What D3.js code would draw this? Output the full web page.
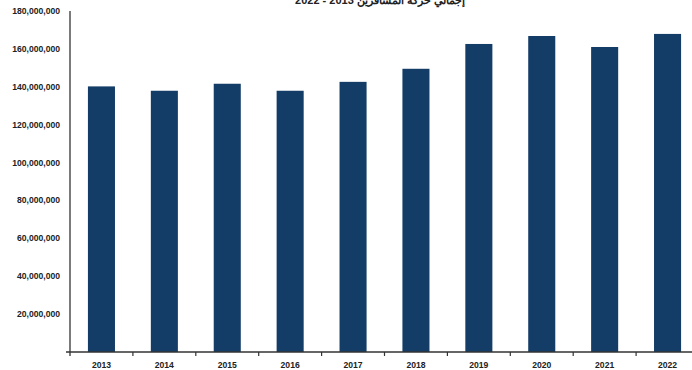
<!DOCTYPE html>
<html><head><meta charset="utf-8">
<script src="https://cdn.jsdelivr.net/npm/d3@7"></script>
<style>body{margin:0;background:#fff}svg{display:block}</style>
</head><body>
<script>
const title = "إجمالي حركة المسافرين 2013 - 2022";
const years = ["2013","2014","2015","2016","2017","2018","2019","2020","2021","2022"];
const values = [140200000,137900000,141600000,137900000,142600000,149500000,162600000,166800000,161000000,167900000];
const yTicks = [20000000,40000000,60000000,80000000,100000000,120000000,140000000,160000000,180000000];

const W = 692, H = 370;
const svg = d3.select("body").append("svg").attr("width", W).attr("height", H);
const x0 = 70, x1 = 699, yTop = 11, yBot = 352;
const x = d3.scaleBand().domain(years).range([x0, x1]).paddingInner(0.57).paddingOuter(0.285);
const y = d3.scaleLinear().domain([0, 180000000]).range([yBot, yTop]);
const font = "'Liberation Sans', Arial, sans-serif";

svg.append("text").attr("x", 380).attr("y", 4).attr("text-anchor", "middle")
  .attr("direction", "rtl").attr("font-family", font).attr("font-weight", "bold")
  .attr("font-size", 11).attr("fill", "#222").text(title);

svg.selectAll("rect.bar").data(years).join("rect").attr("class","bar")
  .attr("x", d => x(d)).attr("width", x.bandwidth())
  .attr("y", (d,i) => y(values[i])).attr("height", (d,i) => yBot - y(values[i]))
  .attr("fill", "#133c66");

svg.selectAll("text.yl").data(yTicks).join("text").attr("class","yl")
  .attr("x", 60).attr("y", d => y(d)).attr("dy", "0.35em").attr("text-anchor", "end")
  .attr("font-family", font).attr("font-weight", "bold").attr("font-size", 8.6).attr("fill", "#222")
  .text(d => d3.format(",")(d));

svg.append("line").attr("x1", x0).attr("x2", x0).attr("y1", yTop).attr("y2", yBot + 4)
  .attr("stroke", "#333").attr("stroke-width", 1.3);
svg.append("line").attr("x1", x0 - 4).attr("x2", W).attr("y1", yBot).attr("y2", yBot)
  .attr("stroke", "#333").attr("stroke-width", 1.3);
const bounds = d3.range(1, years.length).map(i => x0 + i * (x1 - x0) / years.length);
svg.selectAll("line.xt").data(bounds).join("line").attr("class","xt")
  .attr("x1", d => d).attr("x2", d => d).attr("y1", yBot).attr("y2", yBot + 4)
  .attr("stroke", "#333").attr("stroke-width", 1.2);

svg.selectAll("text.xl").data(years).join("text").attr("class","xl")
  .attr("x", d => x(d) + x.bandwidth()/2).attr("y", 368).attr("text-anchor", "middle")
  .attr("font-family", font).attr("font-weight", "bold").attr("font-size", 8.6).attr("fill", "#222")
  .text(d => d);
</script>
</body></html>
